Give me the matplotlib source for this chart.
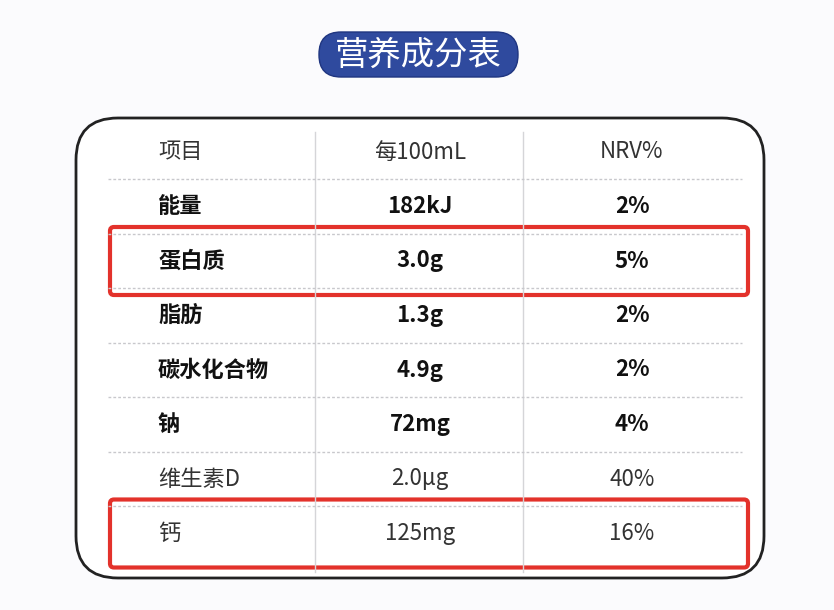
import matplotlib.pyplot as plt
from matplotlib.patches import FancyBboxPatch

plt.rcParams['font.family'] = ['Noto Sans CJK SC', 'DejaVu Sans']

title = "营养成分表"
header = ["项目", "每100mL", "NRV%"]
items = ["能量", "蛋白质", "脂肪", "碳水化合物", "钠", "维生素D", "钙"]
per100 = ["182kJ", "3.0g", "1.3g", "4.9g", "72mg", "2.0μg", "125mg"]
nrv = ["2%", "5%", "2%", "2%", "4%", "40%", "16%"]
bold_rows = [True, True, True, True, True, False, False]
highlight = ["蛋白质", "钙"]

fig = plt.figure(figsize=(8.34, 6.1), dpi=100)
ax = fig.add_axes([0, 0, 1, 1])
ax.set_xlim(0, 834)
ax.set_ylim(610, 0)
ax.axis("off")
fig.patch.set_facecolor("#fbfbfd")

# title pill
ax.add_patch(FancyBboxPatch((319, 32), 199, 45, boxstyle="round,pad=0,rounding_size=22",
                            fc="#2f4a9e", ec="#1f3580", lw=1))
ax.text(418, 55, title, color="white", fontsize=24, fontweight="medium", ha="center", va="center")

# outer box
ax.add_patch(FancyBboxPatch((76, 118), 688, 460, boxstyle="round,pad=0,rounding_size=42",
                            fc="white", ec="#222", lw=2))

row_h = 54.5
y0 = 152
ys = [y0 + i * row_h for i in range(len(items) + 1)]
col_x = [158, 420, 632]

for x in [315, 523]:
    ax.plot([x, x], [132, 572], color="#d5d5d8", lw=1)
for i in range(len(ys) - 1):
    yd = (ys[i] + ys[i + 1]) / 2
    ax.plot([108, 742], [yd, yd], color="#c8c8cc", lw=1, ls=(0, (2, 1.5)))

for j, h in enumerate(header):
    ax.text(col_x[j], ys[0], h, fontsize=16, color="#333", ha="left" if j == 0 else "center", va="center")

for i, (name, v, n) in enumerate(zip(items, per100, nrv)):
    y = ys[i + 1]
    fw = "bold" if bold_rows[i] else "normal"
    c = "#111" if bold_rows[i] else "#333"
    ax.text(col_x[0], y, name, fontsize=16, fontweight=fw, color=c, ha="left", va="center")
    ax.text(col_x[1], y, v, fontsize=16, fontweight=fw, color=c, ha="center", va="center")
    ax.text(col_x[2], y, n, fontsize=16, fontweight=fw, color=c, ha="center", va="center")
    if name in highlight:
        ax.add_patch(FancyBboxPatch((110, y - 34), 638, 68, boxstyle="round,pad=0,rounding_size=4",
                                    fc="none", ec="#e3322b", lw=3))

fig.savefig("out.png", dpi=100, facecolor=fig.get_facecolor())
